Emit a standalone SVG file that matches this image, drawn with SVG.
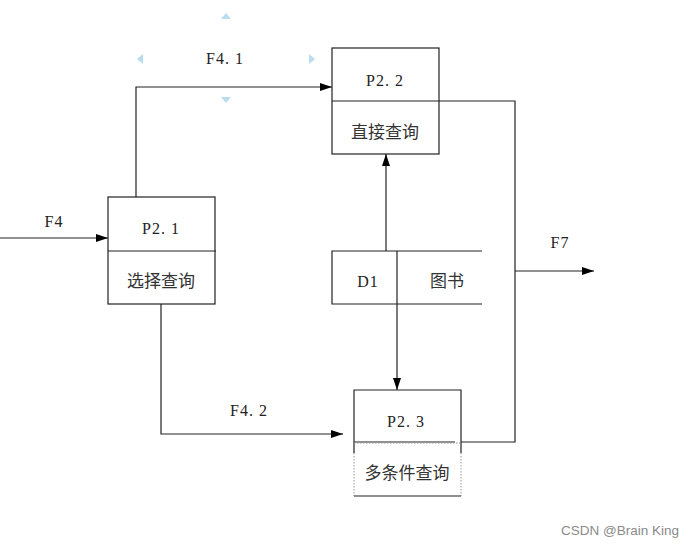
<svg xmlns="http://www.w3.org/2000/svg" width="692" height="549" viewBox="0 0 692 549">
<defs>
<marker id="arr" viewBox="0 0 12 8" refX="12" refY="4" markerWidth="12" markerHeight="8" markerUnits="userSpaceOnUse" orient="auto">
<path d="M0,0 L12,4 L0,8 Z" fill="#000"/>
</marker>
</defs>
<style>
.box{fill:#fff;stroke:#222;stroke-width:1.2}
.ln{fill:none;stroke:#222;stroke-width:1.2}
.t{font-family:"Liberation Serif","Noto Sans CJK SC",serif;font-size:16px;letter-spacing:1px;fill:#222;text-anchor:middle}
.c{font-family:"Noto Sans CJK SC","Liberation Serif",sans-serif;font-size:17px;fill:#333;text-anchor:middle}
.h{fill:#b9dcef}
.wm{font-family:"Liberation Sans",Arial,sans-serif;font-size:13.5px;fill:#8a8a8a}
</style>
<rect width="692" height="549" fill="#fff"/>
<g id="connectors">
<path class="ln" d="M0,238 H108" marker-end="url(#arr)"/>
<path class="ln" d="M136,197 V87 H332" marker-end="url(#arr)"/>
<path class="ln" d="M161,304 V434 H343" marker-end="url(#arr)"/>
<path class="ln" d="M386,251 V154" marker-end="url(#arr)"/>
<path class="ln" d="M397,304 V390" marker-end="url(#arr)"/>
<path class="ln" d="M439,101 H515 V442 H461"/>
<path class="ln" d="M515,271 H594" marker-end="url(#arr)"/>
</g>
<g id="labels">
<text class="t" x="225" y="64">F4. 1</text>
<text class="t" x="54" y="227">F4</text>
<text class="t" x="249" y="416">F4. 2</text>
<text class="t" x="560" y="248">F7</text>
</g>
<g id="handles">
<path class="h" d="M221,19 L226,13 L231,19 Z"/>
<path class="h" d="M221,97 L226,103 L231,97 Z"/>
<path class="h" d="M143,54 L137,59 L143,64 Z"/>
<path class="h" d="M309,54 L315,59 L309,64 Z"/>
</g>
<g id="P2.1">
<rect class="box" x="108" y="197" width="107" height="107"/>
<line class="ln" x1="108" y1="251" x2="216" y2="251"/>
<text class="t" x="161" y="234">P2. 1</text>
<text class="c" x="161" y="287">选择查询</text>
</g>
<g id="P2.2">
<rect class="box" x="332" y="48" width="107" height="106"/>
<line class="ln" x1="332" y1="101" x2="439" y2="101"/>
<text class="t" x="385" y="86">P2. 2</text>
<text class="c" x="385" y="138">直接查询</text>
</g>
<g id="D1">
<path class="ln" d="M482,251 H332 V304 H482"/>
<line class="ln" x1="397" y1="251" x2="397" y2="304"/>
<text class="t" x="368" y="287">D1</text>
<text class="c" x="447" y="287">图书</text>
</g>
<g id="P2.3">
<path class="ln" d="M354,453 V390 H461 V453"/>
<line class="ln" x1="354" y1="442" x2="455" y2="442"/>
<path d="M354,453 V496 M461,453 V496 M354,443 H461" fill="none" stroke="#999" stroke-width="1" stroke-dasharray="1.5,1.5"/>
<line class="ln" x1="354" y1="496" x2="461" y2="496"/>
<text class="t" x="406" y="427">P2. 3</text>
<text class="c" x="407" y="479">多条件查询</text>
</g>
<text class="wm" x="561" y="535">CSDN @Brain King</text>
</svg>
